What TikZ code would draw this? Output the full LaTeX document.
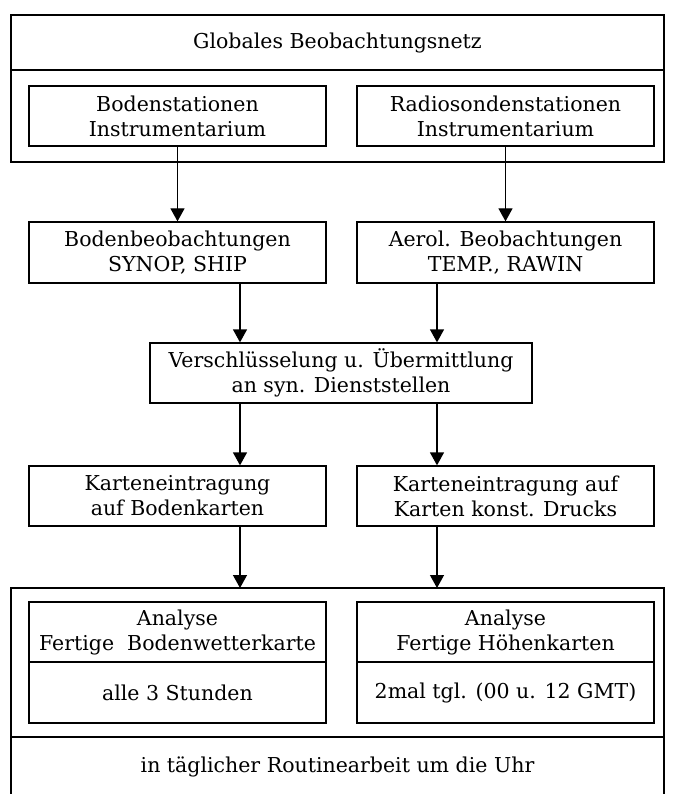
\documentclass[tikz,border=0pt]{standalone}
\usepackage{fontspec}
\setmainfont{DejaVu Serif}
\usepackage{tikz}
\usetikzlibrary{arrows.meta, positioning}

\begin{document}
\begin{tikzpicture}[x=1pt, y=-1pt]
    \tikzset{
        box/.style = {rectangle, draw, line width=1.3pt, inner sep=0pt, align=center, font=\fontsize{20.5}{25}\selectfont},
        smallbox/.style = {box, minimum width=297pt, minimum height=60pt},
        frame/.style = {rectangle, draw, line width=1.3pt, inner sep=0pt},
        line/.style = {draw, line width=1.3pt, -{Triangle[length=13pt, width=14pt]}}
    }
    \useasboundingbox (0,0) rectangle (673,794);

    % Globales Beobachtungsnetz
    \node[frame, minimum width=653pt, minimum height=147pt] (netz) at (337.5,88.5) {};
    \node[box, minimum width=653pt, minimum height=55pt] (titel) at (337.5,42.5) {Globales Beobachtungsnetz};
    \node[smallbox] (bstat) at (177.5,116) {Bodenstationen\\Instrumentarium};
    \node[smallbox] (rstat) at (505.5,116) {Radiosondenstationen\\Instrumentarium};

    \node[smallbox, minimum height=61pt] (bbeob) at (177.5,252.5) {Bodenbeobachtungen\\SYNOP, SHIP};
    \node[smallbox, minimum height=61pt] (abeob) at (505.5,252.5) {Aerol. Beobachtungen\\TEMP., RAWIN};

    \node[box, minimum width=382pt, minimum height=60pt] (versch) at (341,373) {Verschl\"usselung u. \"Ubermittlung\\an syn. Dienststellen};

    \node[smallbox] (kboden) at (177.5,496) {Karteneintragung\\auf Bodenkarten};
    \node[smallbox] (khoehe) at (505.5,496) {Karteneintragung auf\\Karten konst. Drucks};

    % Analyse
    \coordinate (ul) at (11,588);
    \coordinate (ur) at (664,588);
    \draw[line width=1.3pt] (11,794) -- (ul) -- (ur) -- (664,794);
    \draw[line width=1.3pt] (11,737) -- (664,737);
    \node[smallbox] (anaboden) at (177.5,632) {Analyse\\Fertige~ Bodenwetterkarte};
    \node[smallbox, minimum height=61pt] (stdboden) at (177.5,692.5) {alle 3 Stunden};
    \node[smallbox] (anahoehe) at (505.5,632) {Analyse\\Fertige H\"ohenkarten};
    \node[smallbox, minimum height=61pt] (stdhoehe) at (505.5,692.5) {2mal tgl. (00 u. 12 GMT)};
    \node[font=\fontsize{20.5}{25}\selectfont] (routine) at (337.5,767) {in t\"aglicher Routinearbeit um die Uhr};

    \coordinate (lx) at (240,0);
    \coordinate (rx) at (437,0);

    \path[line] (bstat) -- (bbeob);
    \path[line] (rstat) -- (abeob);
    \path[line] (bbeob.south -| lx) -- (versch.north -| lx);
    \path[line] (abeob.south -| rx) -- (versch.north -| rx);
    \path[line] (versch.south -| lx) -- (kboden.north -| lx);
    \path[line] (versch.south -| rx) -- (khoehe.north -| rx);
    \path[line] (kboden.south -| lx) -- (ul -| lx);
    \path[line] (khoehe.south -| rx) -- (ul -| rx);
\end{tikzpicture}
\end{document}
